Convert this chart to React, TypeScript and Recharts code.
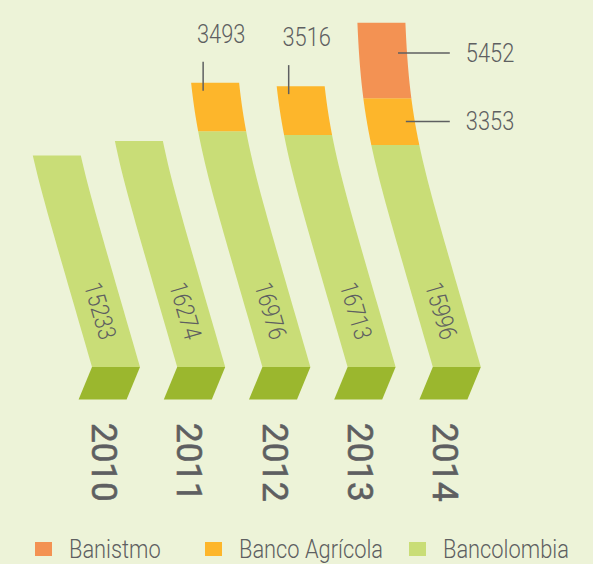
import { BarChart, Bar, XAxis, YAxis, Legend } from 'recharts'

const years = ['2010', '2011', '2012', '2013', '2014']
const bancolombia = [15233, 16274, 16976, 16713, 15996]
const bancoAgricola = [null, null, 3493, 3516, 3353]
const banistmo = [null, null, null, null, 5452]
const legendOrder = ['banistmo', 'bancoAgricola', 'bancolombia']

const data = years.map((year, i) => ({
    year,
    bancolombia: bancolombia[i],
    bancoAgricola: bancoAgricola[i],
    banistmo: banistmo[i],
}))

const W = 593
const H = 564
const MARGIN = { top: 6, right: 94, bottom: 57, left: 73 }
const X_AXIS_H = 140
const BASE_Y = H - MARGIN.bottom - X_AXIS_H

const BG = '#edf3d8'
const LIGHT_GREEN = '#c9dd77'
const DARK_GREEN = '#9bb72e'
const YELLOW = '#fdb62b'
const ORANGE = '#f39253'
const TEXT = '#5e5f61'
const FONT = 'Roboto, sans-serif'
const SQUEEZE = 0.84

// bars lean left as they rise, and straighten out near the top
const SLOPE = 0.29
const CAP = 78
function slant(h: number) {
    const a = SLOPE * Math.max(h, 0)
    if (a === 0) return 0
    return a / Math.pow(1 + Math.pow(a / CAP, 6), 1 / 6)
}

function bandPath(x: number, w: number, yTop: number, yBottom: number) {
    const steps = 30
    const left: string[] = []
    const right: string[] = []
    for (let i = 0; i <= steps; i++) {
        const yy = yBottom + ((yTop - yBottom) * i) / steps
        const off = slant(BASE_Y - yy)
        left.push(`${x - off},${yy}`)
        right.unshift(`${x - off + w},${yy}`)
    }
    return 'M' + left.join(' L') + ' L' + right.join(' L') + ' Z'
}

interface SegmentProps {
    x?: number
    y?: number
    width?: number
    height?: number
    payload?: any
    fill?: string
}

function NarrowText({ tx, ty, rotate = 0, anchor = 'start', baseline, size = 26, children }: any) {
    return (
        <text
            x={0}
            y={0}
            transform={`translate(${tx},${ty}) rotate(${rotate}) scale(${SQUEEZE},1)`}
            textAnchor={anchor}
            dominantBaseline={baseline}
            fontFamily={FONT}
            fontWeight={300}
            fontSize={size}
            fill={TEXT}
        >
            {children}
        </text>
    )
}

function makeSegment(key: string) {
    return function Segment(props: SegmentProps) {
        const { x = 0, y = 0, width = 0, height = 0, payload, fill } = props
        const v = payload ? payload[key] : null
        if (v == null || height <= 0) return <g />
        const yTop = y
        const yBottom = y + height
        const right = (yy: number) => x - slant(BASE_Y - yy) + width

        if (key === 'bancolombia') {
            const hLabel = 56
            const cx = x - slant(hLabel) + width / 2
            const cy = BASE_Y - hLabel
            const shift = 13.4
            return (
                <g>
                    <path d={bandPath(x, width, yTop, yBottom)} fill={fill} />
                    <path
                        d={`M${x},${BASE_Y} L${x + width},${BASE_Y} L${x + width - shift},${BASE_Y + 32.6} L${x - shift},${BASE_Y + 32.6} Z`}
                        fill={DARK_GREEN}
                    />
                    <NarrowText tx={cx} ty={cy} rotate={73.8} anchor="middle" baseline="central" size={25}>
                        {v}
                    </NarrowText>
                </g>
            )
        }

        const horizontal = key === 'banistmo' || payload.banistmo != null
        let label
        if (horizontal) {
            const ly = key === 'banistmo' ? yTop + height * 0.4 : (yTop + yBottom) / 2
            label = (
                <g>
                    <line x1={right(ly) - 9} y1={ly} x2={x + 17} y2={ly} stroke={TEXT} strokeWidth={1.5} />
                    <NarrowText tx={x + 33} ty={ly} baseline="central">
                        {v}
                    </NarrowText>
                </g>
            )
        } else {
            const lx = x - slant(BASE_Y - yTop) + 12
            label = (
                <g>
                    <line x1={lx} y1={yTop - 21} x2={lx} y2={yTop + 8} stroke={TEXT} strokeWidth={1.5} />
                    <NarrowText tx={lx + 18} ty={yTop - 40} anchor="middle">
                        {v}
                    </NarrowText>
                </g>
            )
        }
        return (
            <g>
                <path d={bandPath(x, width, yTop, yBottom)} fill={fill} />
                {label}
            </g>
        )
    }
}

function YearTick({ x, y, payload }: { x?: number; y?: number; payload?: { value: string } }) {
    return (
        <text
            x={0}
            y={0}
            transform={`translate(${(x ?? 0) - 12},${(y ?? 0) + 56}) rotate(90)`}
            textAnchor="start"
            dominantBaseline="central"
            fontFamily={FONT}
            fontWeight={400}
            fontSize={35}
            stroke={TEXT}
            strokeWidth={0.6}
            fill={TEXT}
        >
            {payload?.value}
        </text>
    )
}

function LegendContent({ payload }: { payload?: { value: string; color: string; dataKey: string }[] }) {
    const items = legendOrder
        .map((k) => (payload ?? []).find((p) => p.dataKey === k))
        .filter(Boolean) as { value: string; color: string; dataKey: string }[]
    const widths = [170, 204, 160]
    return (
        <div style={{ display: 'flex', alignItems: 'center', whiteSpace: 'nowrap', width: 560 }}>
            {items.map((item, i) => (
                <div key={item.dataKey} style={{ display: 'flex', alignItems: 'center', width: widths[i], flexShrink: 0 }}>
                    <span style={{ display: 'inline-block', width: 17, height: 14, background: item.color, marginRight: 17, flexShrink: 0 }} />
                    <span
                        style={{
                            display: 'inline-block',
                            fontFamily: FONT,
                            fontWeight: 300,
                            fontSize: 26,
                            color: TEXT,
                            lineHeight: '30px',
                            transform: `scaleX(${SQUEEZE})`,
                            transformOrigin: 'left center',
                        }}
                    >
                        {item.value}
                    </span>
                </div>
            ))}
        </div>
    )
}

export default function App() {
    return (
        <div style={{ position: 'absolute', left: 0, top: 0, width: W, height: H, background: BG, overflow: 'hidden' }}>
            <BarChart width={W} height={H} data={data} margin={MARGIN} barSize={48}>
                <XAxis
                    dataKey="year"
                    height={X_AXIS_H}
                    axisLine={false}
                    tickLine={false}
                    tickSize={0}
                    tickMargin={0}
                    interval={0}
                    tick={<YearTick />}
                />
                <YAxis hide domain={[0, 26000]} />
                <Legend
                    layout="vertical"
                    align="center"
                    verticalAlign="middle"
                    wrapperStyle={{ left: 35, top: 534, width: 560 }}
                    content={<LegendContent />}
                />
                <Bar
                    dataKey="bancolombia"
                    name="Bancolombia"
                    stackId="a"
                    fill={LIGHT_GREEN}
                    shape={makeSegment('bancolombia')}
                    isAnimationActive={false}
                />
                <Bar
                    dataKey="bancoAgricola"
                    name="Banco Agrícola"
                    stackId="a"
                    fill={YELLOW}
                    shape={makeSegment('bancoAgricola')}
                    isAnimationActive={false}
                />
                <Bar
                    dataKey="banistmo"
                    name="Banistmo"
                    stackId="a"
                    fill={ORANGE}
                    shape={makeSegment('banistmo')}
                    isAnimationActive={false}
                />
            </BarChart>
        </div>
    )
}
